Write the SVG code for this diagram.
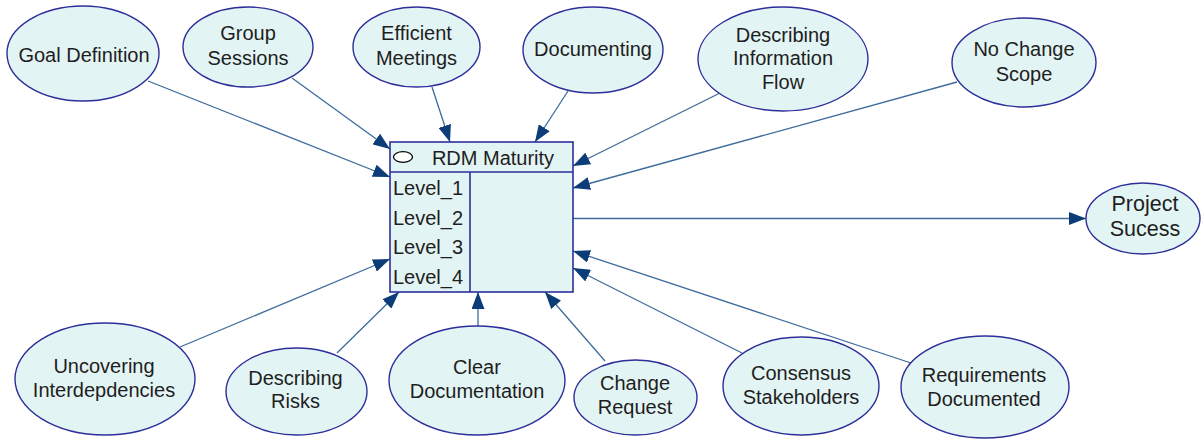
<svg xmlns="http://www.w3.org/2000/svg" width="1203" height="439" viewBox="0 0 1203 439">
<style>
.node ellipse{fill:#e3f4f4;stroke:#2e2e9a;stroke-width:1.4}
.node text,.box text{font-family:"Liberation Sans",Arial,sans-serif;font-size:20px;fill:#1e1e1e;text-anchor:middle}
.node text.big{font-size:21.5px}
.box rect,.box line{fill:#e3f4f4;stroke:#2e2e9a;stroke-width:1.6}
.box text.lv{text-anchor:start}
#connectors line{stroke:#3d6c9c;stroke-width:1.3;marker-end:url(#arr)}
</style>
<defs>
<marker id="arr" markerUnits="userSpaceOnUse" markerWidth="18" markerHeight="13" refX="17" refY="6.5" orient="auto">
<path d="M0,0 L17,6.5 L0,13 z" fill="#0c3d78"/>
</marker>
</defs>
<rect width="1203" height="439" fill="#ffffff"/>
<g id="connectors">
<line x1="148" y1="81" x2="390" y2="177"/>
<line x1="292" y1="78" x2="390" y2="149"/>
<line x1="432" y1="87" x2="450" y2="142"/>
<line x1="568" y1="91" x2="535" y2="142"/>
<line x1="720" y1="93" x2="573" y2="166"/>
<line x1="957" y1="82" x2="573" y2="188"/>
<line x1="573" y1="218.5" x2="1086" y2="218.5"/>
<line x1="180" y1="347" x2="390" y2="259"/>
<line x1="337" y1="353" x2="399" y2="292"/>
<line x1="478" y1="326" x2="478" y2="292"/>
<line x1="605" y1="361" x2="545" y2="292"/>
<line x1="742" y1="353" x2="573" y2="268"/>
<line x1="911" y1="363" x2="573" y2="251"/>
</g>
<g id="rdm-maturity" class="box">
<rect x="390" y="142" width="183" height="150"/>
<line x1="390" y1="172" x2="573" y2="172"/>
<line x1="470" y1="172" x2="470" y2="292"/>
<ellipse cx="403" cy="157" rx="9.5" ry="5.3" fill="#ffffff" stroke="#000000" stroke-width="1.3"/>
<text x="493" y="165">RDM Maturity</text>
<text class="lv" x="393" y="195">Level_1</text>
<text class="lv" x="393" y="225">Level_2</text>
<text class="lv" x="393" y="254">Level_3</text>
<text class="lv" x="393" y="284">Level_4</text>
</g>
<g id="goal-definition" class="node"><ellipse cx="83" cy="53.5" rx="76" ry="47.5"/><text x="84" y="62">Goal Definition</text></g>
<g id="group-sessions" class="node"><ellipse cx="248" cy="47" rx="65" ry="40"/><text x="248" y="40">Group</text><text x="248" y="65">Sessions</text></g>
<g id="efficient-meetings" class="node"><ellipse cx="416.5" cy="47" rx="63.5" ry="40"/><text x="416.5" y="40">Efficient</text><text x="416.5" y="65">Meetings</text></g>
<g id="documenting" class="node"><ellipse cx="593" cy="50" rx="70" ry="43"/><text x="593" y="56">Documenting</text></g>
<g id="describing-information-flow" class="node"><ellipse cx="783" cy="59" rx="85" ry="52"/><text x="783" y="42">Describing</text><text x="783" y="65">Information</text><text x="783" y="89">Flow</text></g>
<g id="no-change-scope" class="node"><ellipse cx="1024" cy="62.5" rx="72" ry="44.5"/><text x="1024" y="56">No Change</text><text x="1024" y="81">Scope</text></g>
<g id="project-sucess" class="node"><ellipse cx="1143" cy="218.5" rx="57" ry="35.5"/><text class="big" x="1145" y="211">Project</text><text class="big" x="1145" y="236">Sucess</text></g>
<g id="uncovering-interdepdencies" class="node"><ellipse cx="105" cy="379" rx="90" ry="56"/><text x="104" y="373">Uncovering</text><text x="104" y="397">Interdepdencies</text></g>
<g id="describing-risks" class="node"><ellipse cx="296.5" cy="391.5" rx="70.5" ry="43.5"/><text x="295.5" y="385">Describing</text><text x="295.5" y="408">Risks</text></g>
<g id="clear-documentation" class="node"><ellipse cx="477" cy="380.5" rx="88" ry="54.5"/><text x="477" y="374">Clear</text><text x="477" y="398">Documentation</text></g>
<g id="change-request" class="node"><ellipse cx="635.5" cy="397.5" rx="61.5" ry="37.5"/><text x="635" y="390">Change</text><text x="635" y="414">Request</text></g>
<g id="consensus-stakeholders" class="node"><ellipse cx="801" cy="386" rx="78" ry="49"/><text x="801" y="380">Consensus</text><text x="801" y="404">Stakeholders</text></g>
<g id="requirements-documented" class="node"><ellipse cx="985" cy="387" rx="84" ry="51"/><text x="984" y="382">Requirements</text><text x="984" y="406">Documented</text></g>
</svg>
